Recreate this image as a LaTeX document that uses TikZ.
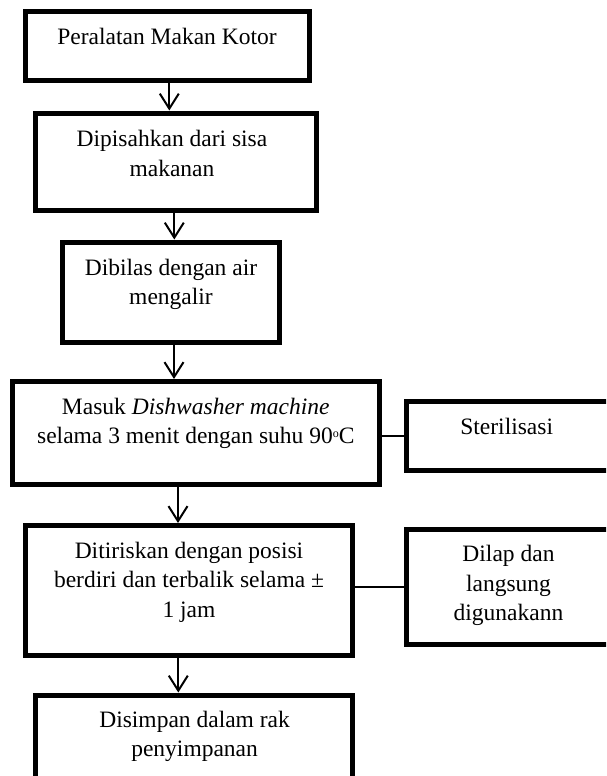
\documentclass[tikz,border=0pt]{standalone}
\usepackage{fontspec}
\setmainfont{Liberation Serif}
\usetikzlibrary{arrows.meta}
\newcommand\mlines[1]{\begin{tabular}[t]{@{}c@{}}#1\end{tabular}}
\newcommand\dego{\raisebox{0.55ex}{\fontsize{12}{12}\selectfont o}}
\begin{document}
\begin{tikzpicture}[x=1pt,y=-1pt,
  box/.style={draw, rectangle, line width=5pt, inner sep=0pt},
  txt/.style={anchor=base, inner sep=0pt, font=\fontsize{23.5}{29.5}\selectfont},
  arr/.style={line width=2pt, -{Straight Barb[length=15pt,width=19pt]}},
  ln/.style={line width=2pt}]
\useasboundingbox (0,0) rectangle (606,776);
\clip (0,0) rectangle (606,776);
% boxes
\node[box, minimum width=284pt, minimum height=68.5pt] (b1) at (167,46.25) {};
\node[box, minimum width=281pt, minimum height=97.5pt] (b2) at (176.3,161.75) {};
\node[box, minimum width=216.5pt, minimum height=100pt] (b3) at (170.75,292) {};
\node[box, minimum width=366.5pt, minimum height=103pt] (b4) at (195.75,433) {};
\node[box, minimum width=205.5pt, minimum height=68.5pt] (s1) at (509.25,435.75) {};
\node[box, minimum width=327.5pt, minimum height=130pt] (b5) at (188.75,590.5) {};
\node[box, minimum width=205.5pt, minimum height=115pt] (d1) at (509.25,586.5) {};
\node[box, minimum width=317pt, minimum height=83pt] (b6) at (194,736.5) {};
% texts
\node[txt] (t1) at (167,45) {Peralatan Makan Kotor};
\node[txt] (t2) at (172,146.7) {\mlines{Dipisahkan dari sisa\\makanan}};
\node[txt] (t3) at (171,275) {\mlines{Dibilas dengan air\\mengalir}};
\node[txt] (t4) at (195.8,414) {\mlines{Masuk \textit{Dishwasher machine}\\selama 3 menit dengan suhu 90\dego C}};
\node[txt] (ts) at (506.7,434) {Sterilisasi};
\node[txt] (t5) at (189,558) {\mlines{Ditiriskan dengan posisi\\berdiri dan terbalik selama ±\\1 jam}};
\node[txt] (td) at (508.5,561.7) {\mlines{Dilap dan\\langsung\\digunakann}};
\node[txt] (t6) at (194.6,727.3) {\mlines{Disimpan dalam rak\\penyimpanan}};
% arrow columns
\coordinate (x1) at (169.3,0);
\coordinate (x2) at (174.3,0);
\coordinate (x3) at (174,0);
\coordinate (x4) at (178,0);
\coordinate (x5) at (178.3,0);
\draw[arr] (b1.south -| x1) -- (b2.north -| x1);
\draw[arr] (b2.south -| x2) -- (b3.north -| x2);
\draw[arr] (b3.south -| x3) -- (b4.north -| x3);
\draw[arr] (b4.south -| x4) -- (b5.north -| x4);
\draw[arr] (b5.south -| x5) -- (b6.north -| x5);
% side links
\draw[ln] (b4.east |- s1.west) -- (s1.west);
\draw[ln] (b5.east |- d1.west) -- (d1.west);
\end{tikzpicture}
\end{document}
